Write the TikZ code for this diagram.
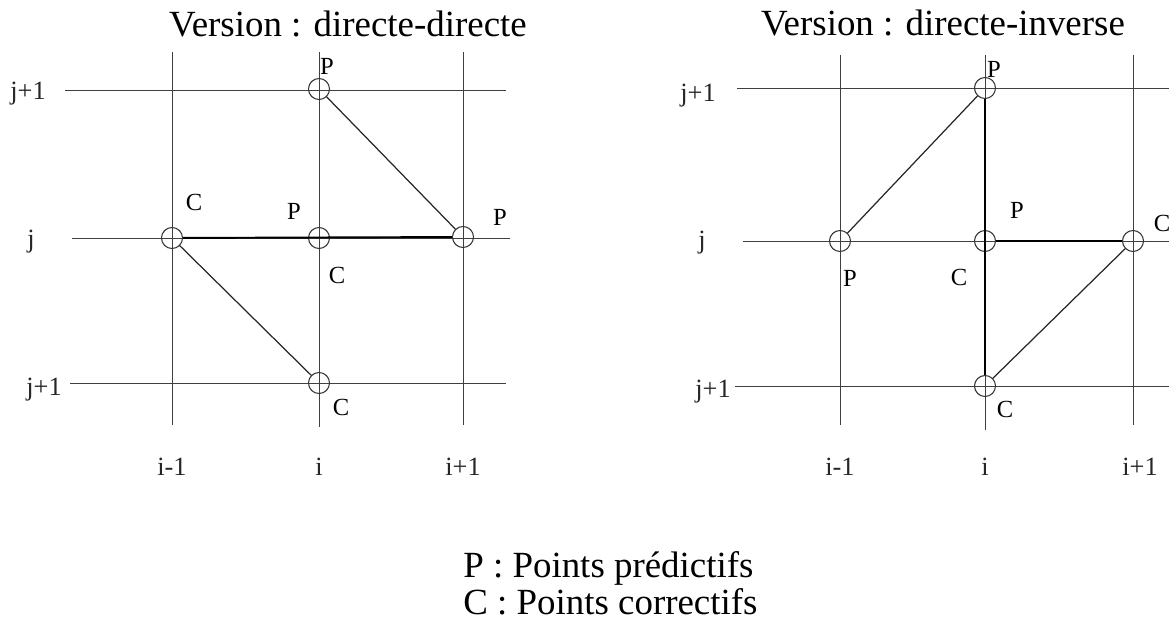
\documentclass[tikz,border=0pt]{standalone}
\usepackage{fontspec}
\setmainfont{Liberation Serif}
\usepackage{tikz}
\usetikzlibrary{positioning}

\begin{document}
\begin{tikzpicture}[
    x=0.02cm, y=-0.02cm,
    % --- STYLES ---
    grid/.style={draw=black!75, line width=0.5pt},
    pt/.style={
        circle, draw=black!80, line width=0.6pt,
        minimum size=0.42cm, inner sep=0pt
    },
    link/.style={draw=black!85, line width=0.7pt},
    heavy/.style={draw=black, line width=1.1pt},
    axis/.style={font=\fontsize{15}{17}\selectfont, text=black!85, inner sep=0pt, anchor=base},
    lbl/.style={font=\fontsize{14}{16}\selectfont, inner sep=0pt},
    title/.style={font=\fontsize{21}{24}\selectfont, inner sep=0pt, anchor=base}
]

\useasboundingbox (0,0) rectangle (1169,625);

% ===== 1. COORDINATES & HEADERS =====
\def\xAm{172} \def\xAi{319} \def\xAp{463}   % directe-directe
\def\xBm{840} \def\xBi{985} \def\xBp{1133}  % directe-inverse

\node[title] (tdd) at (348,37) {Version : directe-directe};
\node[title] (tdi) at (943,36) {Version : directe-inverse};

% ===== 2. GRID (directe-directe) =====
\draw[grid] (\xAm,52) -- (\xAm,425);
\draw[grid] (\xAi,52) -- (\xAi,427);
\draw[grid] (\xAp,52) -- (\xAp,425);
\draw[grid] (65,90) -- (506,90);
\draw[grid] (72,238) -- (510,238);
\draw[grid] (70,383) -- (506,383);

\node[axis] (dd-j1) at (28,100) {j+1};
\node[axis] (dd-j) at (31,247) {j};
\node[axis] (dd-j2) at (44,395) {j+1};
\node[axis] (dd-im) at (\xAm,475) {i-1};
\node[axis] (dd-i) at (\xAi,475) {i};
\node[axis] (dd-ip) at (\xAp,475) {i+1};

% ===== 3. POINTS (directe-directe) =====
\node[pt] (dd-t) at (\xAi,89) {};
\node[pt] (dd-l) at (\xAm,238) {};
\node[pt] (dd-c) at (\xAi,238) {};
\node[pt] (dd-r) at (\xAp,237) {};
\node[pt] (dd-b) at (\xAi,383) {};

\node[lbl] at (327,66) {P};
\node[lbl] at (194,202) {C};
\node[lbl] at (294,211) {P};
\node[lbl] at (500,217) {P};
\node[lbl] at (337,275) {C};
\node[lbl] at (341,407) {C};

\draw[heavy] (dd-l) -- (dd-r);
\draw[link] (dd-t) -- (dd-r);
\draw[link] (dd-l) -- (dd-b);

% ===== 4. GRID (directe-inverse) =====
\draw[grid] (\xBm,55) -- (\xBm,425);
\draw[grid] (\xBi,55) -- (\xBi,430);
\draw[grid] (\xBp,55) -- (\xBp,425);
\draw[grid] (737,88) -- (1169,88);
\draw[grid] (743,241) -- (1169,241);
\draw[grid] (735,386) -- (1169,386);

\node[axis] (di-j1) at (698,102) {j+1};
\node[axis] (di-j) at (702,248) {j};
\node[axis] (di-j2) at (713,397) {j+1};
\node[axis] (di-im) at (\xBm,475) {i-1};
\node[axis] (di-i) at (\xBi,475) {i};
\node[axis] (di-ip) at (1140,475) {i+1};

% ===== 5. POINTS (directe-inverse) =====
\node[pt] (di-t) at (\xBi,88) {};
\node[pt] (di-l) at (\xBm,241) {};
\node[pt] (di-c) at (\xBi,241) {};
\node[pt] (di-r) at (\xBp,241) {};
\node[pt] (di-b) at (\xBi,386) {};

\node[lbl] at (994,69) {P};
\node[lbl] at (1017,210) {P};
\node[lbl] at (1162,223) {C};
\node[lbl] at (850,278) {P};
\node[lbl] at (959,277) {C};
\node[lbl] at (1005,409) {C};

\draw[heavy] (di-t) -- (di-b);
\draw[heavy] (di-c) -- (di-r);
\draw[link] (di-l) -- (di-t);
\draw[link] (di-r) -- (di-b);

% ===== 6. LEGEND =====
\node[title, anchor=base west] (legp) at (463,577) {P : Points prédictifs};
\node[title, anchor=base west] (legc) at (463,614) {C : Points correctifs};

\end{tikzpicture}
\end{document}
